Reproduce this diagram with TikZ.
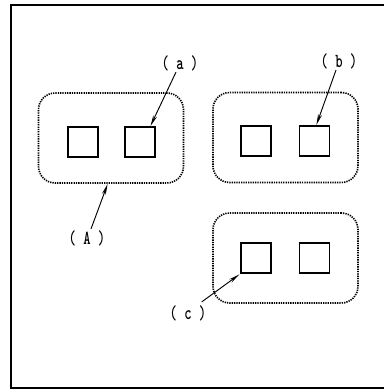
\documentclass[tikz,border=0pt]{standalone}
\usepackage{tikz}
\usetikzlibrary{arrows.meta}

\begin{document}
\begin{tikzpicture}[x=0.03cm,y=-0.03cm,font=\fontsize{17}{19}\selectfont\ttfamily\bfseries,
  grp/.style={draw,line width=1.4pt,dash pattern=on 1.1pt off 0.9pt,rounded corners=0.5cm,
    minimum width=4.35cm,minimum height=2.7cm,inner sep=0pt},
  sq/.style={draw,line width=1.3pt,minimum size=0.9cm,inner sep=0pt},
  lbl/.style={inner sep=1pt},
  pt/.style={-{Stealth[length=0.33cm,width=0.12cm]},line width=0.8pt,shorten >=1pt}]
  \newcommand\tag[1]{\scalebox{0.7}[1]{#1}}
  \useasboundingbox (0,0) rectangle (384,390);
  % frame (right side cut off)
  \draw[line width=1.6pt] (384,5) -- (11,5) -- (11,388) -- (384,388);
  % groups
  \node[grp] (gA) at (111,138) {};
  \node[grp] (gB) at (285.5,137.5) {};
  \node[grp] (gC) at (285.5,258) {};
  % squares
  \node[sq] (a1) at (83,142) {};   \node[sq] (a2) at (140,142) {};
  \node[sq] (b1) at (256,141) {};  \node[sq] (b2) at (314.5,141) {};
  \node[sq] (c1) at (256,258) {};  \node[sq] (c2) at (314.5,258) {};
  % labels
  \node[lbl] (la) at (180,63) {\tag{( a )}};
  \node[lbl] (lb) at (339,61) {\tag{( b )}};
  \node[lbl] (lA) at (87,238) {\tag{( A )}};
  \node[lbl] (lc) at (188,313) {\tag{( c )}};
  \coordinate (ea) at (150,127);
  \coordinate (eb) at (316,126);
  \coordinate (eA) at (108,183);
  \draw[pt] (la.south) ++(-4,0) -- (ea);
  \draw[pt] (lb.south) ++(-3,0) -- (eb);
  \draw[pt] (lA.north) ++(4,0) -- (eA);
  \draw[pt] (lc.north east) ++(-6,-2) -- (c1.south west);
\end{tikzpicture}
\end{document}
